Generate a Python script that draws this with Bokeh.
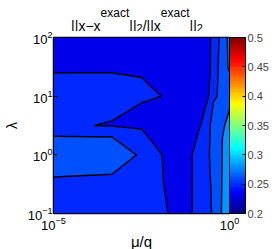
import numpy as np
from bokeh.plotting import figure
from bokeh.layouts import column
from bokeh.models import (ColorBar, LinearColorMapper, FixedTicker, Range1d,
                          CustomJSTickFormatter)
from bokeh.core.properties import value
from bokeh.embed import file_html
from bokeh.resources import INLINE

# ---- data ----
mu_q = [1e-5, 4.6e-4, 3.2e-3, 6.3e-3, 0.03, 0.16, 0.35, 0.63, 1.0]
lam = [0.1, 0.316, 1.0, 3.16, 10.0, 31.6, 100.0]
err_rows = [
    [0.246, 0.246, 0.244, 0.243, 0.2368, 0.2441, 0.2516, 0.2614, 0.268],
    [0.2483, 0.2473, 0.244, 0.243, 0.2331, 0.2489, 0.2505, 0.261, 0.268],
    [0.2595, 0.2595, 0.245, 0.2419, 0.234, 0.2477, 0.2517, 0.2604, 0.268],
    [0.2403, 0.2393, 0.2388, 0.2357, 0.235, 0.2405, 0.2553, 0.2595, 0.2614],
    [0.247, 0.247, 0.2406, 0.2409, 0.237, 0.232, 0.2477, 0.2543, 0.258],
    [0.237, 0.237, 0.2394, 0.236, 0.236, 0.234, 0.243, 0.2582, 0.2607],
    [0.236, 0.236, 0.236, 0.236, 0.236, 0.236, 0.2419, 0.2569, 0.2617],
]
levels = [0.2, 0.24, 0.25, 0.26, 0.3]
band_colors = ["#0000EB", "#0028FF", "#0050FF", "#0096FF"]
cbar_ticks = [0.2, 0.25, 0.3, 0.35, 0.4, 0.45, 0.5]
x_ticks = [1e-5, 1.0]
y_ticks = [0.1, 1.0, 10.0, 100.0]
title_pieces = ["||x−x", "exact", "||", "2", "/||x", "exact", "||", "2"]
title_kinds = ["main", "sup", "main", "sub", "main", "sup", "main", "sub"]

# jet colormap (64 steps) for the colour bar
def jet(n):
    cols = []
    for i in range(n):
        v = (i + 0.5) / n
        r = min(max(1.5 - abs(4 * v - 3), 0), 1)
        g = min(max(1.5 - abs(4 * v - 2), 0), 1)
        b = min(max(1.5 - abs(4 * v - 1), 0), 1)
        cols.append("#%02x%02x%02x" % (int(round(r * 255)), int(round(g * 255)), int(round(b * 255))))
    return cols

FONT = "Liberation Sans"
LEFT, FW, FH = 48, 176, 176

# ---------------- title strip: its frame is aligned with the plot frame ----------------
TH = 31
tf = figure(frame_width=FW, frame_height=TH,
            x_range=Range1d(LEFT, LEFT + FW), y_range=Range1d(0, TH),
            x_axis_location=None, y_axis_location=None, title=None,
            min_border_left=LEFT, min_border_top=0, min_border_bottom=0, min_border_right=0,
            toolbar_location=None, output_backend="svg")
tf.grid.visible = False
tf.outline_line_color = None
tf.background_fill_color = "white"
tf.border_fill_color = "white"

W = {"|": 0.26, "x": 0.5, "−": 0.584, "/": 0.278, "e": 0.556, "a": 0.556,
     "c": 0.5, "t": 0.278, "2": 0.556}
SIZE = {"main": 14, "sup": 12, "sub": 11}
BASE = {"main": 6, "sup": 18.5, "sub": 3.5}   # baselines, px above strip bottom
widths = [sum(W[ch] for ch in s) * SIZE[k] for s, k in zip(title_pieces, title_kinds)]
x0 = 131.5 - sum(widths) / 2.0
for kind in ("main", "sup", "sub"):
    xs, ys, ts = [], [], []
    xpos = x0
    for s, k, w in zip(title_pieces, title_kinds, widths):
        if k == kind:
            xs.append(xpos)
            ys.append(BASE[k])
            ts.append(s)
        xpos += w
    tf.text(x=xs, y=ys, text=ts, text_font=value(FONT), text_font_size=f"{SIZE[kind]}px",
            text_color="black", text_align="left", text_baseline="alphabetic")

# ---------------- main contour plot ----------------
p = figure(x_axis_type="log", y_axis_type="log",
           x_range=Range1d(1e-5, 1.0), y_range=Range1d(0.1, 100.0),
           frame_width=FW, frame_height=FH, title=None,
           min_border_left=LEFT, min_border_top=6, min_border_bottom=0, min_border_right=0,
           output_backend="svg", toolbar_location=None)
p.background_fill_color = "white"
p.border_fill_color = "white"
p.grid.visible = False
p.outline_line_color = "black"
p.outline_line_width = 1.5

z = np.array(err_rows)
p.contour(x=mu_q, y=lam, z=z, levels=levels, fill_color=band_colors,
          line_color="black", line_width=1.4)

for ax in (p.xaxis[0], p.yaxis[0]):
    ax.major_tick_in = 4
    ax.major_tick_out = 0
    ax.minor_tick_line_color = None
    ax.axis_line_color = "black"
    ax.major_tick_line_color = "black"
    ax.major_label_text_font = FONT
    ax.major_label_text_font_size = "13px"
    ax.major_label_text_color = "black"
    ax.axis_label_text_font = FONT
    ax.axis_label_text_font_style = "normal"
    ax.axis_label_text_color = "black"

p.xaxis.major_label_standoff = 3
p.yaxis.major_label_standoff = 1
p.xaxis.ticker = FixedTicker(ticks=x_ticks)
p.yaxis.ticker = FixedTicker(ticks=y_ticks)
p.xaxis.axis_label = "μ/q"
p.yaxis.axis_label = "λ"
p.xaxis.axis_label_text_font_size = "15px"
p.yaxis.axis_label_text_font_size = "14px"
p.xaxis.axis_label_standoff = 0
p.yaxis.axis_label_standoff = 5

mapper = LinearColorMapper(palette=jet(64), low=0.2, high=0.5)
cb = ColorBar(color_mapper=mapper, ticker=FixedTicker(ticks=cbar_ticks),
              formatter=CustomJSTickFormatter(code="return tick.toString()"),
              width=16, height=FH, padding=0, margin=10, label_standoff=2,
              major_tick_in=3, major_tick_out=0, major_tick_line_color="black",
              minor_tick_line_color=None,
              bar_line_color="black", border_line_color=None,
              background_fill_alpha=0,
              major_label_text_font=FONT, major_label_text_font_size="11px",
              location=(0, 0))
p.add_layout(cb, "right")

layout = column(tf, p, spacing=0)
open("out.html", "w").write(file_html(layout, INLINE))
